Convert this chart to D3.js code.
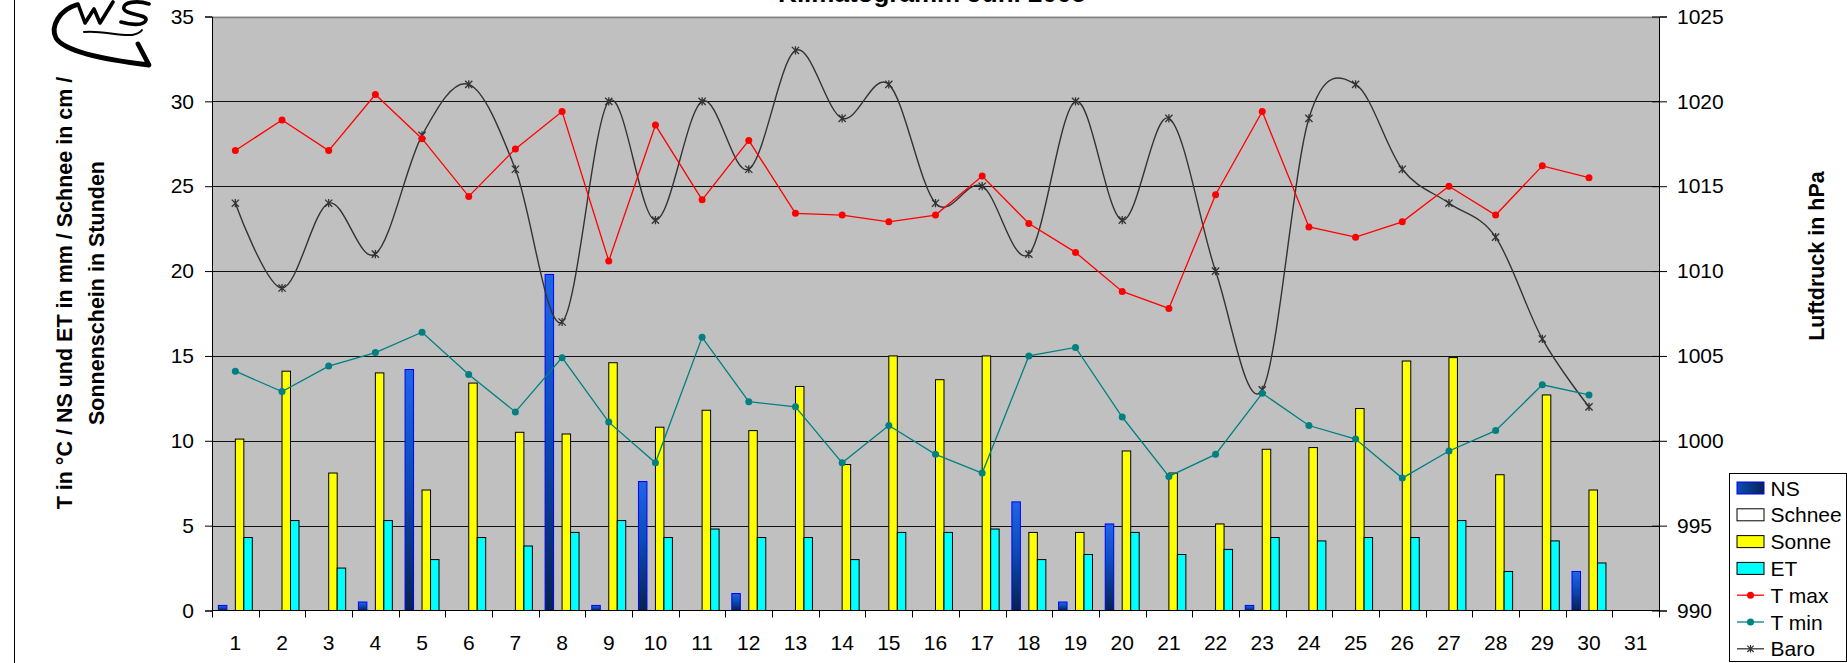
<!DOCTYPE html>
<html><head><meta charset="utf-8">
<script src="https://cdn.jsdelivr.net/npm/d3@7"></script>
<style>
html,body{margin:0;padding:0;background:#fff;overflow:hidden;}
svg{display:block;font-family:Arial,"Liberation Sans",sans-serif;}
</style></head><body>
<svg id="chart" width="1847" height="663"></svg>
<script>
// ---------- data ----------
const days = [1,2,3,4,5,6,7,8,9,10,11,12,13,14,15,16,17,18,19,20,21,22,23,24,25,26,27,28,29,30,31];
const nsValues     = [0.3,0,0,0.5,14.2,0,0,19.8,0.3,7.6,0,1.0,0,0,0,0,0,6.4,0.5,5.1,0,0,0.3,0,0,0,0,0,0,2.3,null];
const schneeValues = [0,0,0,0,0,0,0,0,0,0,0,0,0,0,0,0,0,0,0,0,0,0,0,0,0,0,0,0,0,0,null];
const sonneValues  = [10.1,14.1,8.1,14.0,7.1,13.4,10.5,10.4,14.6,10.8,11.8,10.6,13.2,8.6,15.0,13.6,15.0,4.6,4.6,9.4,8.1,5.1,9.5,9.6,11.9,14.7,14.9,8.0,12.7,7.1,null];
const etValues     = [4.3,5.3,2.5,5.3,3.0,4.3,3.8,4.6,5.3,4.3,4.8,4.3,4.3,3.0,4.6,4.6,4.8,3.0,3.3,4.6,3.3,3.6,4.3,4.1,4.3,4.3,5.3,2.3,4.1,2.8,null];
const tmaxValues   = [27.1,28.9,27.1,30.4,27.8,24.4,27.2,29.4,20.6,28.6,24.2,27.7,23.4,23.3,22.9,23.3,25.6,22.8,21.1,18.8,17.8,24.5,29.4,22.6,22.0,22.9,25.0,23.3,26.2,25.5,null];
const tminValues   = [14.1,12.9,14.4,15.2,16.4,13.9,11.7,14.9,11.1,8.7,16.1,12.3,12.0,8.7,10.9,9.2,8.1,15.0,15.5,11.4,7.9,9.2,12.8,10.9,10.1,7.8,9.4,10.6,13.3,12.7,null];
const baroValues   = [1014,1009,1014,1011,1018,1021,1016,1007,1020,1013,1020,1016,1023,1019,1021,1014,1015,1011,1020,1013,1019,1010,1003,1019,1021,1016,1014,1012,1006,1002,null];
const leftTicks  = [0,5,10,15,20,25,30,35];
const rightTicks = [990,995,1000,1005,1010,1015,1020,1025];
const barKeys = ["NS","Schnee","Sonne","ET"];
const legendLabels = ["NS","Schnee","Sonne","ET","T max","T min","Baro"];
const titleText = "Klimatogramm Juni 2005";
const leftTitle = ["T in °C / NS und ET in mm / Schnee in cm /","Sonnenschein in Stunden"];
const rightTitle = "Luftdruck in hPa";

// ---------- styles ----------
const colors = {NS:"url(#nsGrad)", Schnee:"#ffffff", Sonne:"#ffff00", ET:"#00ffff",
  tmax:"#ff0000", tmin:"#008080", baro:"#333333"};
const strokes = {NS:"#0000ff", Schnee:"#000", Sonne:"#000", ET:"#000"};

const svg = d3.select("#chart");
const L = 212, R = 1659, T = 16.5, B = 610.5;

const defs = svg.append("defs");
const g1 = defs.append("linearGradient").attr("id","nsGrad").attr("x1",0).attr("y1",0).attr("x2",0).attr("y2",1);
g1.append("stop").attr("offset","0%").attr("stop-color","#1f66e8");
g1.append("stop").attr("offset","45%").attr("stop-color","#0b4cb8");
g1.append("stop").attr("offset","100%").attr("stop-color","#07224f");
const g2 = defs.append("linearGradient").attr("id","nsGradH").attr("x1",0).attr("y1",0).attr("x2",1).attr("y2",0);
g2.append("stop").attr("offset","0%").attr("stop-color","#0b4cb8");
g2.append("stop").attr("offset","100%").attr("stop-color","#07224f");

// scales
const x0 = d3.scaleBand().domain(days).range([L, R]).padding(0);
const x1 = d3.scaleBand().domain(barKeys).range([0, x0.bandwidth()]).paddingInner(0).paddingOuter(0.75);
const y  = d3.scaleLinear().domain([0,35]).range([B, T]);
const yR = d3.scaleLinear().domain([990,1025]).range([B, T]);
const cx = d => x0(d) + x0.bandwidth()/2;

// frame line left
svg.append("line").attr("x1",14.5).attr("x2",14.5).attr("y1",0).attr("y2",663).attr("stroke","#000").attr("stroke-width",1);

// plot background
svg.append("rect").attr("x",L).attr("y",T).attr("width",R-L).attr("height",B-T).attr("fill","#c0c0c0");

// gridlines
svg.append("g").selectAll("line").data(leftTicks.filter(v=>v>0)).join("line")
  .attr("x1",L).attr("x2",R)
  .attr("y1",d=>Math.round(y(d))+0.5).attr("y2",d=>Math.round(y(d))+0.5)
  .attr("stroke",d=>d===35?"#808080":"#111").attr("stroke-width",d=>d===35?1.5:1);

// bars
const barData = [];
const seriesVals = {NS:nsValues, Schnee:schneeValues, Sonne:sonneValues, ET:etValues};
barKeys.forEach(k=>{
  seriesVals[k].forEach((v,i)=>{ if(v!=null && v>0) barData.push({k, day:days[i], v}); });
});
svg.append("g").selectAll("rect").data(barData).join("rect")
  .attr("x",d=>x0(d.day)+x1(d.k))
  .attr("width",x1.bandwidth())
  .attr("y",d=>y(d.v))
  .attr("height",d=>y(0)-y(d.v))
  .attr("fill",d=>colors[d.k])
  .attr("stroke",d=>strokes[d.k])
  .attr("stroke-width",1);

// lines
function drawLine(vals, scale, color, curve, width){
  const line = d3.line().defined(d=>d.v!=null).x(d=>cx(d.day)).y(d=>scale(d.v)).curve(curve);
  const pts = vals.map((v,i)=>({day:days[i], v}));
  svg.append("path").datum(pts).attr("d",line).attr("fill","none").attr("stroke",color).attr("stroke-width",width);
  return pts.filter(d=>d.v!=null);
}
const baroPts = drawLine(baroValues, yR, colors.baro, d3.curveCatmullRom.alpha(0), 1.4);
const tmaxPts = drawLine(tmaxValues, y, colors.tmax, d3.curveLinear, 1.3);
const tminPts = drawLine(tminValues, y, colors.tmin, d3.curveLinear, 1.3);

const star = s => `M${-s},${-s}L${s},${s}M${-s},${s}L${s},${-s}M0,${-s-0.5}L0,${s+0.5}`;
svg.append("g").selectAll("path").data(baroPts).join("path")
  .attr("transform",d=>`translate(${cx(d.day)},${yR(d.v)})`)
  .attr("d",star(3.6)).attr("stroke",colors.baro).attr("stroke-width",1.3).attr("fill","none");
svg.append("g").selectAll("circle").data(tmaxPts).join("circle")
  .attr("cx",d=>cx(d.day)).attr("cy",d=>y(d.v)).attr("r",3.5).attr("fill",colors.tmax);
svg.append("g").selectAll("circle").data(tminPts).join("circle")
  .attr("cx",d=>cx(d.day)).attr("cy",d=>y(d.v)).attr("r",3.5).attr("fill",colors.tmin);

// axes
const fs = "21px";
const axL = svg.append("g").attr("transform",`translate(${L},0)`)
  .call(d3.axisLeft(y).tickValues(leftTicks).tickFormat(d3.format("d")).tickSize(7).tickPadding(11));
const axR = svg.append("g").attr("transform",`translate(${R},0)`)
  .call(d3.axisRight(yR).tickValues(rightTicks).tickFormat(d3.format("d")).tickSize(8).tickPadding(10));
axR.selectAll(".tick line").attr("x1",-7);
const axB = svg.append("g").attr("transform",`translate(0,${B})`)
  .call(d3.axisBottom(x0).tickSize(0).tickPadding(25));
[axL,axR,axB].forEach(a=>{
  a.selectAll("text").attr("font-size",fs).attr("font-family","Arial, 'Liberation Sans', sans-serif").attr("fill","#000");
  a.selectAll("line,path").attr("stroke","#000");
});
axB.select(".domain").remove();
svg.append("line").attr("x1",L).attr("x2",R).attr("y1",B).attr("y2",B).attr("stroke","#000");
const bounds = days.map(d=>x0(d)).concat([R]);
svg.append("g").selectAll("line").data(bounds).join("line")
  .attr("x1",d=>Math.round(d)+0.5).attr("x2",d=>Math.round(d)+0.5)
  .attr("y1",B).attr("y2",B+7).attr("stroke","#000");

// title (cut at the top edge as in the reference)
svg.append("text").attr("x",932).attr("y",2).attr("text-anchor","middle")
  .attr("font-size","26px").attr("font-weight","bold").text(titleText);

// axis titles
const lt = svg.append("text").attr("transform","translate(0,293) rotate(-90)")
  .attr("text-anchor","middle").attr("font-size","21.5px").attr("font-weight","bold");
lt.append("tspan").attr("x",0).attr("y",72).text(leftTitle[0]);
lt.append("tspan").attr("x",0).attr("y",103.5).text(leftTitle[1]);
svg.append("text").attr("transform","translate(1824,256) rotate(-90)")
  .attr("text-anchor","middle").attr("font-size","21.5px").attr("font-weight","bold").text(rightTitle);

// logo
const logo = svg.append("g").attr("fill","none").attr("stroke","#000").attr("stroke-linecap","round").attr("stroke-linejoin","round");
logo.append("path").attr("d","M76,5 C60,10 50,26 56,38 C64,51 100,59 149,65 L138,44").attr("stroke-width",4.8);
logo.append("path").attr("d","M78,4 L85,23 L94,9 L100,23 L113,2").attr("stroke-width",3.6);
logo.append("path").attr("d","M149,4 C137,0 122,2 124,9 C126,15 147,14 146,20 C144,26 131,25 121,22").attr("stroke-width",3.6);
logo.append("path").attr("d","M84,32 C100,30 118,36 132,35 C137,34 140,33 142,30").attr("stroke-width",2);

// legend
const lg = svg.append("g");
lg.append("rect").attr("x",1729.5).attr("y",473.5).attr("width",117).attr("height",188).attr("fill","#fff").attr("stroke","#000");
const legY = i => 488 + i*26.8;
legendLabels.forEach((lab,i)=>{
  const yy = legY(i);
  if(i<4){
    lg.append("rect").attr("x",1737).attr("y",yy-6).attr("width",27).attr("height",12)
      .attr("fill", i===0?"url(#nsGradH)":colors[barKeys[i]]).attr("stroke",strokes[barKeys[i]]);
  } else {
    const col = i===4?colors.tmax:(i===5?colors.tmin:colors.baro);
    lg.append("line").attr("x1",1737).attr("x2",1764).attr("y1",yy).attr("y2",yy).attr("stroke",col).attr("stroke-width",1.3);
    if(i<6) lg.append("circle").attr("cx",1750.5).attr("cy",yy).attr("r",3.5).attr("fill",col);
    else lg.append("path").attr("transform",`translate(1750.5,${yy})`).attr("d",star(3.2)).attr("stroke",col).attr("stroke-width",1.2);
  }
  lg.append("text").attr("x",1770.5).attr("y",yy).attr("dy","0.36em").attr("font-size","21px").text(lab);
});
</script>
</body></html>
